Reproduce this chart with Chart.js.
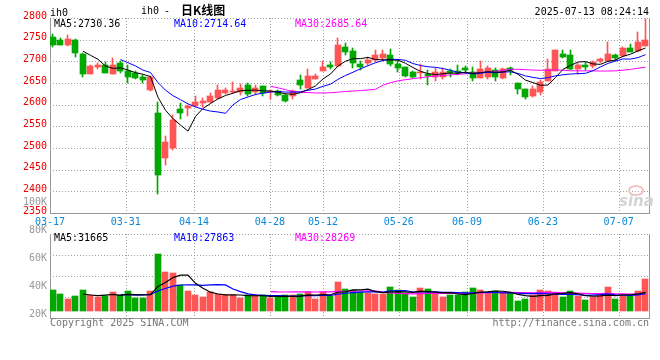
<!DOCTYPE html>
<html><head><meta charset="utf-8">
<script src="https://cdn.jsdelivr.net/npm/chart.js@4.4.1/dist/chart.umd.min.js"></script>
<style>
html,body{margin:0;padding:0;background:#fff;}
#wrap{position:relative;width:660px;height:360px;overflow:hidden;background:#fff;font-family:"DejaVu Sans Mono",monospace;font-size:10px;}
canvas{position:absolute;left:0;}
#c1{top:0;}
#c2{top:190px;}
.t{position:absolute;white-space:pre;line-height:10px;font-size:10px;font-family:"DejaVu Sans Mono",monospace;}
</style></head><body>
<div id="wrap">
<canvas id="c1" width="660" height="230" style="width:660px;height:230px"></canvas>
<canvas id="c2" width="660" height="170" style="width:660px;height:170px"></canvas>
<span class="t" style="left:50px;top:8px;color:#000">ih0</span>
<span class="t" style="left:141px;top:6px;color:#000">ih0</span>
<span class="t" style="left:164px;top:6px;color:#000">-</span>
<span class="t" style="left:181px;top:4px;color:#000;font-family:'Noto Sans CJK SC',sans-serif;font-size:12px;line-height:12px;font-weight:bold">日K线图</span>
<span class="t" style="right:11px;top:7px;color:#000">2025-07-13 08:24:14</span>
<span class="t" style="left:54px;top:19px;color:#000">MA5:2730.36</span>
<span class="t" style="left:174px;top:19px;color:#0000ff">MA10:2714.64</span>
<span class="t" style="left:295px;top:19px;color:#ff00ff">MA30:2685.64</span>
<span class="t" style="left:54px;top:233px;color:#000">MA5:31665</span>
<span class="t" style="left:174px;top:233px;color:#0000ff">MA10:27863</span>
<span class="t" style="left:295px;top:233px;color:#ff00ff">MA30:28269</span>
<span class="t" style="left:50px;top:318px;color:#777">Copyright 2025 SINA.COM</span>
<span class="t" style="right:11px;top:318px;color:#777">http://finance.sina.com.cn</span>
<span style="position:absolute;left:628px;top:185px;width:12px;height:7px;border:2px solid #f2c4c4;border-radius:50%"></span>
<span class="t" style="left:619px;top:194px;color:#d4d4d4;font-family:'DejaVu Sans',sans-serif;font-size:15px;line-height:15px;font-weight:bold;font-style:italic">sina</span>
</div>
<script>
// ---- data ----
const dates = ['03-17','03-18','03-19','03-20','03-21','03-24','03-25','03-26','03-27','03-28',
 '03-31','04-01','04-02','04-03','04-07','04-08','04-09','04-10','04-11',
 '04-14','04-15','04-16','04-17','04-18','04-21','04-22','04-23','04-24','04-25',
 '04-28','04-29','04-30','05-06','05-07','05-08','05-09',
 '05-12','05-13','05-14','05-15','05-16','05-19','05-20','05-21','05-22','05-23',
 '05-26','05-27','05-28','05-29','05-30','06-03','06-04','06-05','06-06',
 '06-09','06-10','06-11','06-12','06-13','06-16','06-17','06-18','06-19','06-20',
 '06-23','06-24','06-25','06-26','06-27','06-30','07-01','07-02','07-03','07-04',
 '07-07','07-08','07-09','07-10','07-11'];
const tickLabels = ['03-17','03-31','04-14','04-28','05-12','05-26','06-09','06-23','07-07'];
const open = [2756,2750,2737,2750,2717,2671,2688,2692,2671,2695,
 2677,2673,2663,2633,2581,2476,2500,2591,2592,2596,
 2604,2606,2615,2628,2629,2629,2646,2630,2642,2629,
 2631,2623,2619,2657,2639,2659,2678,2692,2690,2734,
 2723,2694,2695,2702,2708,2715,2694,2686,2675,2672,
 2671,2663,2665,2678,2678,2685,2675,2662,2665,2681,
 2661,2685,2650,2637,2621,2629,2654,2677,2717,2715,
 2683,2692,2690,2700,2700,2714,2712,2731,2723,2736];
const high = [2762,2754,2761,2752,2719,2692,2696,2698,2708,2700,
 2692,2677,2669,2667,2606,2527,2577,2604,2600,2619,
 2615,2627,2645,2638,2652,2648,2650,2646,2644,2634,
 2634,2625,2634,2669,2682,2670,2700,2698,2754,2742,
 2731,2700,2711,2725,2727,2728,2700,2688,2677,2694,
 2681,2685,2685,2682,2691,2690,2688,2700,2690,2685,
 2685,2686,2650,2637,2644,2658,2706,2727,2725,2727,
 2696,2698,2700,2708,2744,2717,2733,2740,2767,2798];
const low = [2734,2737,2736,2711,2663,2670,2682,2673,2670,2673,
 2651,2660,2651,2632,2394,2460,2496,2567,2573,2594,
 2594,2604,2612,2624,2626,2623,2621,2623,2619,2612,
 2619,2606,2612,2637,2638,2659,2678,2682,2688,2715,
 2685,2679,2692,2698,2700,2690,2675,2664,2662,2659,
 2645,2654,2660,2663,2668,2673,2654,2661,2660,2654,
 2659,2669,2625,2612,2617,2622,2654,2677,2708,2679,
 2671,2679,2685,2695,2700,2700,2709,2721,2721,2736];
const close = [2737,2738,2752,2719,2671,2690,2692,2674,2692,2677,
 2664,2662,2656,2665,2438,2515,2565,2581,2596,2606,
 2609,2621,2635,2635,2632,2638,2625,2638,2627,2630,
 2623,2608,2631,2646,2666,2666,2688,2688,2738,2721,
 2696,2688,2702,2714,2718,2694,2685,2667,2664,2675,
 2667,2675,2675,2673,2672,2679,2662,2683,2685,2665,
 2683,2681,2637,2617,2637,2652,2683,2725,2710,2682,
 2692,2688,2698,2705,2717,2707,2731,2722,2744,2750];
const volume = [34000,27500,19400,24300,34000,25900,22200,24300,30300,25900,
 32900,21500,21500,32900,92300,63700,61600,42100,32400,25900,
 23200,30300,27500,25900,25900,21500,25900,25900,25900,20600,
 22200,25900,25900,27500,31300,19000,31300,24300,47500,35600,
 34000,31300,29600,27500,27500,39400,34000,28700,23200,37700,
 35600,28700,23200,25900,25900,30800,37700,34000,28700,32400,
 28700,29600,16700,19400,25900,34000,32400,28700,23200,32400,
 24300,17800,23200,25900,39400,19400,24300,24300,32400,52000];
const volTickValues = [20000,40000,60000,80000,100000];

// ---- helpers ----
const UP = '#ff5555', DOWN = '#00a800';
const GRID = '#a0a0a0', AXIS = '#999999';
const FONT = {family:"'DejaVu Sans Mono', monospace", size:10};
const colors = close.map((c,i) => c >= open[i] ? UP : DOWN);
const idx = dates.map((_, i) => i);
const tickIdx = tickLabels.map(l => dates.indexOf(l));
function ma(arr, n){
  return arr.map((_, i) => i < n-1 ? null : arr.slice(i-n+1, i+1).reduce((a,b)=>a+b,0)/n);
}
const pts = arr => arr.map((v, i) => ({x:i, y:v}));

const snap = {id:'snap', beforeDatasetsDraw(chart){
  chart.data.datasets.forEach((ds, di) => {
    const meta = chart.getDatasetMeta(di);
    if (meta.type !== 'bar') return;
    const w = ds.barThickness;
    meta.data.forEach(el => {
      el.x = (w % 2 === 0) ? Math.round(el.x) : Math.floor(el.x) + 0.5;
      let y = Math.round(el.y), b = Math.round(el.base);
      if (Math.abs(b - y) < 1) b = y + 1;
      el.y = y; el.base = b;
    });
  });
}};
// dotted grid drawn from the scales' own ticks, plus the solid right border
const frame = {id:'frame', beforeDatasetsDraw(chart){
  const {ctx, chartArea:a} = chart;
  ctx.save();
  ctx.lineWidth = 1; ctx.strokeStyle = GRID; ctx.setLineDash([1,2]);
  const xs = chart.scales.x, ys = chart.scales.y;
  xs.ticks.forEach((t, i) => {
    if (i === 0) return;
    const px = Math.round(xs.getPixelForValue(t.value)) + 0.5;
    ctx.beginPath(); ctx.moveTo(px, a.top); ctx.lineTo(px, a.bottom); ctx.stroke();
  });
  ys.ticks.forEach(t => {
    if (t.value <= ys.min) return;
    const py = Math.round(ys.getPixelForValue(t.value)) + 0.5;
    ctx.beginPath(); ctx.moveTo(a.left, py); ctx.lineTo(a.right, py); ctx.stroke();
  });
  ctx.setLineDash([]); ctx.strokeStyle = AXIS;
  const x = Math.round(a.right) + 0.5;
  ctx.beginPath(); ctx.moveTo(x, a.top); ctx.lineTo(x, a.bottom + 1); ctx.stroke();
  ctx.restore();
}};

function xAxis(showLabels){
  return {
    type:'linear', min:-0.4, max:79.467, offset:false,
    afterFit: s => { s.height = showLabels ? 17 : 42; },
    afterBuildTicks: s => { s.ticks = tickIdx.map(i => ({value: s.min + i*(s.max - s.min)/(dates.length-1)})); },
    ticks:{display:showLabels, autoSkip:false, maxRotation:0, padding:3, color:'#0a88d6', font:FONT,
      callback:(v, i) => tickLabels[i]},
    grid:{offset:false, drawTicks:false, drawOnChartArea:false},
    border:{display:true, color:AXIS}
  };
}
const lineDs = (data, color, w) => ({type:'line', data:pts(data), borderColor:color, borderWidth:w,
  pointRadius:0, fill:false, tension:0, spanGaps:false, order:0});
const common = {responsive:false, animation:false, events:[],
  plugins:{legend:{display:false}, tooltip:{enabled:false}}};

// ---- main price chart ----
new Chart(document.getElementById('c1'), {
  type:'bar',
  data:{datasets:[
    lineDs(ma(close,5), '#000000', 1),
    lineDs(ma(close,10), '#0000ff', 1),
    lineDs(ma(close,30), '#ff00ff', 1),
    {type:'bar', data: idx.map(i => ({x:i, y:[low[i], high[i]]})), backgroundColor:colors,
      barThickness:1, grouped:false, order:2},
    {type:'bar', data: idx.map(i => ({x:i, y:[open[i], close[i]]})), backgroundColor:colors,
      barThickness:6, grouped:false, minBarLength:1, order:1}
  ]},
  options:Object.assign({}, common, {
    layout:{padding:{top:18, right:11, left:0, bottom:0}},
    scales:{
      x: xAxis(true),
      y:{type:'linear', min:2350, max:2800,
        afterFit: s => { s.width = 50; },
        ticks:{stepSize:50, color:'#ee0000', padding:3, labelOffset:-2, font:FONT, callback: v => String(v)},
        grid:{drawTicks:false, drawOnChartArea:false},
        border:{display:true, color:AXIS}}
    }
  }),
  plugins:[snap, frame]
});

// ---- volume chart ----
new Chart(document.getElementById('c2'), {
  type:'bar',
  data:{datasets:[
    lineDs(ma(volume,5), '#000000', 1.2),
    lineDs(ma(volume,10), '#0000ff', 1.2),
    lineDs(ma(volume,30), '#ff00ff', 1.2),
    {type:'bar', data: idx.map(i => ({x:i, y:volume[i]})), backgroundColor:colors,
      barThickness:6, grouped:false, order:1}
  ]},
  options:Object.assign({}, common, {
    layout:{padding:{top:44, right:11, left:0, bottom:0}},
    scales:{
      x: xAxis(false),
      y:{type:'linear', position:'left', weight:0, min:-11000, max:125000,
        afterFit: s => { s.width = 0; },
        afterBuildTicks: s => { s.ticks = [1,2,3,4].map(k => ({value: s.min + k*(s.max - s.min)/4})); },
        ticks:{display:false},
        grid:{drawTicks:false, drawOnChartArea:false},
        border:{display:true, color:AXIS}},
      yl:{type:'linear', position:'left', weight:1, min:17800, max:77500,
        afterFit: s => { s.width = 50; },
        afterBuildTicks: s => { s.ticks = volTickValues.map(v => ({value:v})); },
        ticks:{autoSkip:false, color:'#999999', padding:3, font:FONT, callback: v => (v/1000) + 'K'},
        grid:{display:false, drawTicks:false},
        border:{display:false}}
    }
  }),
  plugins:[snap, frame]
});
</script>
</body></html>
